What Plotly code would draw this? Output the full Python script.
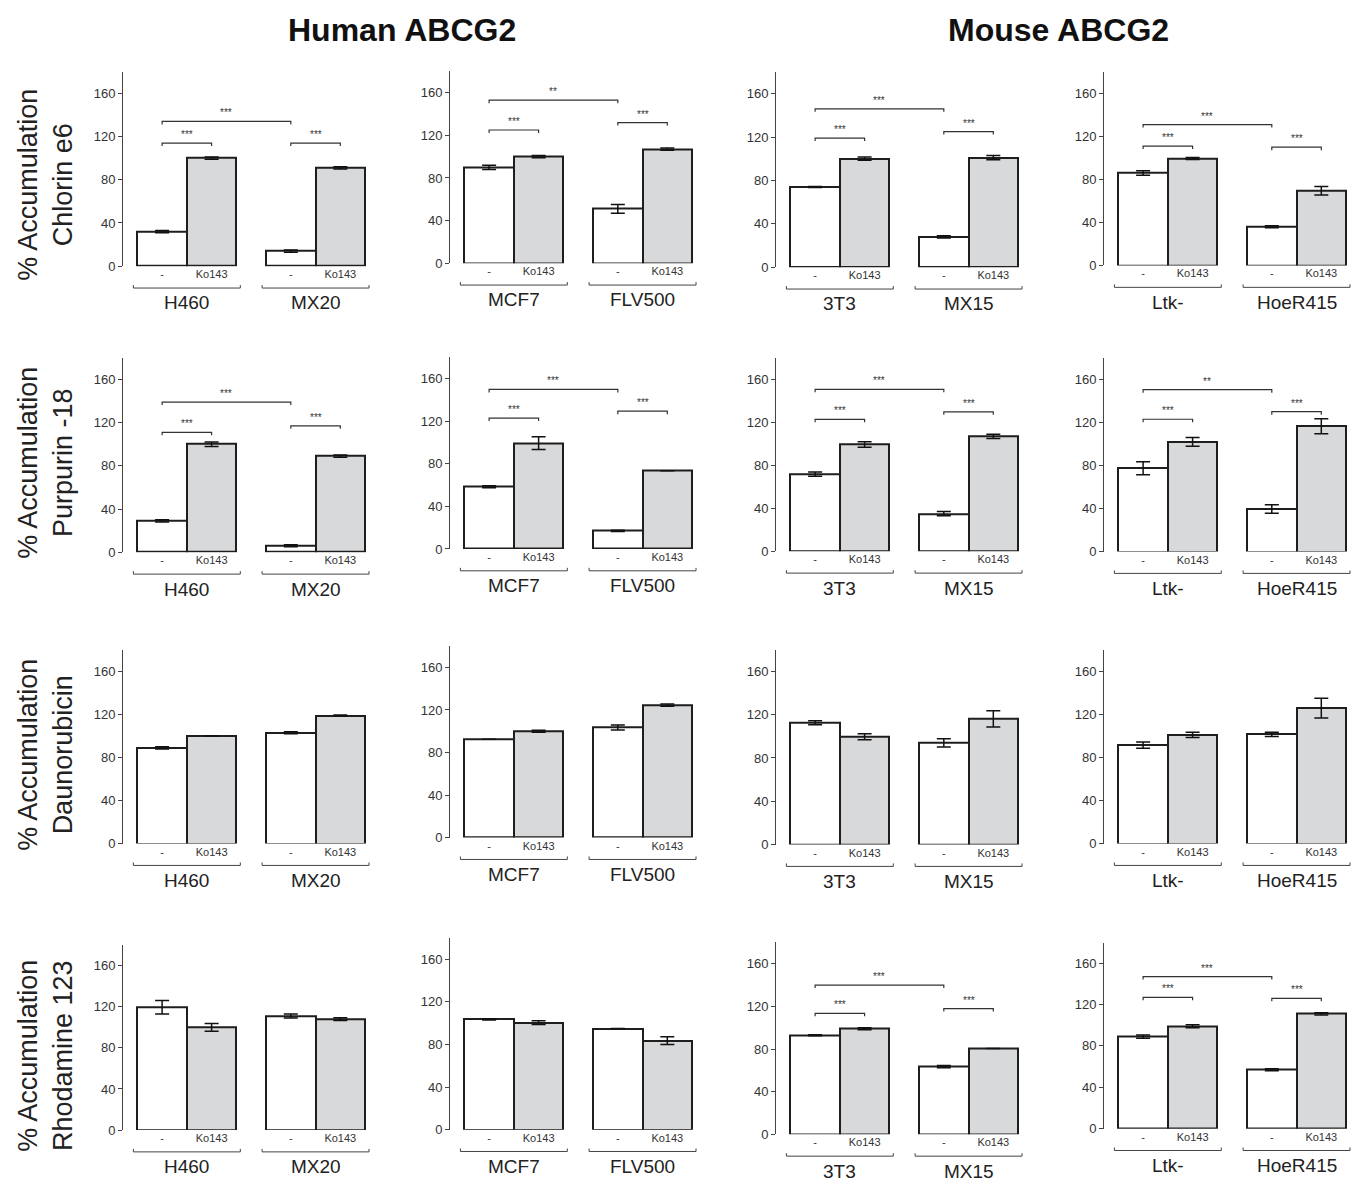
import plotly.graph_objects as go

# ---------------- data ----------------
drugs = ["Chlorin e6", "Purpurin -18", "Daunorubicin", "Rhodamine 123"]
panel_cells = [["H460", "MX20"], ["MCF7", "FLV500"], ["3T3", "MX15"], ["Ltk-", "HoeR415"]]
species_titles = ["Human ABCG2", "Mouse ABCG2"]
treatments = ["-", "Ko143"]
y_ticks = [0, 40, 80, 120, 160]

# bar order in each panel: cell1 "-", cell1 Ko143, cell2 "-", cell2 Ko143
chlorin_mean = [[32, 100, 14, 91], [90, 100, 51, 107], [74, 100, 28, 101], [86, 99.5, 36, 69.5]]
chlorin_err = [[1, 1, 1, 1], [2, 1, 4, 1], [0.5, 1.5, 1, 2], [2, 1, 1, 4]]
purpurin_mean = [[29, 100, 6, 89], [58.5, 99.5, 17, 73.5], [72, 99.5, 35, 107], [77.5, 102, 39.5, 116.5]]
purpurin_err = [[1, 2, 1, 1], [1, 6, 0.5, 0], [2, 2.5, 2, 2], [6, 4, 4, 7]]
dauno_mean = [[89, 100, 103, 119], [92.5, 100, 103.5, 124.5], [112.5, 99.5, 94, 116], [91.5, 101, 101.5, 126]]
dauno_err = [[1, 0, 1, 0.5], [0, 1, 2.3, 1], [1.8, 2.8, 3.8, 7.5], [2.9, 2.5, 2, 9.2]]
rhod_mean = [[119.5, 100, 111, 108], [103.5, 100.5, 95, 83.5], [93, 99, 63.5, 80.5], [89, 99, 57, 111]]
rhod_err = [[6.6, 3.8, 1.9, 1.3], [0.5, 1.7, 0, 3.6], [0.5, 1, 1, 0], [1.5, 1.5, 1, 1]]

# significance brackets: (bar_i, bar_j, height, label)
chlorin_sig = [
    [(0, 1, 114, "***"), (2, 3, 114, "***"), (0, 2, 134, "***")],
    [(0, 1, 125, "***"), (2, 3, 132, "***"), (0, 2, 153, "**")],
    [(0, 1, 119, "***"), (2, 3, 125, "***"), (0, 2, 146, "***")],
    [(0, 1, 111, "***"), (2, 3, 110, "***"), (0, 2, 131, "***")],
]
purpurin_sig = [
    [(0, 1, 111, "***"), (2, 3, 117, "***"), (0, 2, 139, "***")],
    [(0, 1, 123, "***"), (2, 3, 129.5, "***"), (0, 2, 150, "***")],
    [(0, 1, 123, "***"), (2, 3, 130, "***"), (0, 2, 151, "***")],
    [(0, 1, 123, "***"), (2, 3, 130, "***"), (0, 2, 150.5, "**")],
]
dauno_sig = [[], [], [], []]
rhod_sig = [
    [], [],
    [(0, 1, 113.5, "***"), (2, 3, 118, "***"), (0, 2, 140, "***")],
    [(0, 1, 127, "***"), (2, 3, 126, "***"), (0, 2, 147, "***")],
]

means = [chlorin_mean, purpurin_mean, dauno_mean, rhod_mean]
errs = [chlorin_err, purpurin_err, dauno_err, rhod_err]
sigs = [chlorin_sig, purpurin_sig, dauno_sig, rhod_sig]

# ---------------- layout constants (pixels) ----------------
W, H = 1356, 1186
bar_x = [0, 1, 2.6, 3.6]
group_x = [0.5, 3.1]
x_range = [-0.79, 4.25]
unit_px = 49.5
col_axis_px = [123, 450, 776, 1104]
zero_px = [[268, 265, 269, 267.3], [556, 552.7, 555, 555.3],
           [849.3, 843.3, 850.3, 849.3], [1137.7, 1137.3, 1142, 1136.3]]
scale_px = [[1.0875, 1.073, 1.092, 1.083], [1.0875, 1.071, 1.08, 1.083],
            [1.083, 1.071, 1.09, 1.083], [1.034, 1.0725, 1.073, 1.041]]
y_max = 180
row_label_y = [186, 466, 760, 1063]

FONT = "Liberation Sans, Arial, Helvetica, sans-serif"
WHITE, GRAY = "#ffffff", "#d8d9da"
INK = "#1e1e1e"

fig = go.Figure()
layout = dict(
    width=W, height=H, margin=dict(l=0, r=0, t=0, b=0),
    paper_bgcolor="white", plot_bgcolor="rgba(0,0,0,0)",
    showlegend=False, font=dict(family=FONT, color="#222"),
    bargap=0,
)
shapes, annotations = [], []

for r in range(4):
    for c in range(4):
        n = r * 4 + c + 1
        xa, ya = ("x" if n == 1 else f"x{n}"), ("y" if n == 1 else f"y{n}")
        z, s = zero_px[r][c], scale_px[r][c]
        h_px = y_max * s
        left = col_axis_px[c]
        right = left + (x_range[1] - x_range[0]) * unit_px
        layout[f"xaxis{n}"] = dict(
            domain=[left / W, right / W], range=x_range, anchor=ya,
            tickvals=bar_x, ticktext=treatments * 2, ticks="", showline=False,
            showgrid=False, zeroline=False, tickfont=dict(size=11, color="#333"),
            fixedrange=True,
        )
        layout[f"yaxis{n}"] = dict(
            domain=[1 - z / H, 1 - (z - h_px) / H], range=[0, y_max], anchor=xa,
            tickvals=y_ticks, ticks="outside", ticklen=4, tickcolor="#444",
            showline=True, linecolor="#444", linewidth=1, showgrid=False,
            zeroline=False, tickfont=dict(size=13, color="#333"), fixedrange=True,
        )
        fig.add_trace(go.Bar(
            x=bar_x, y=means[r][c], width=1.0, xaxis=xa, yaxis=ya,
            marker=dict(color=[WHITE, GRAY, WHITE, GRAY], line=dict(color=INK, width=2)),
            error_y=dict(type="data", array=errs[r][c], visible=True,
                         color="#111", thickness=1.5, width=7),
            showlegend=False, hoverinfo="skip",
        ))
        # significance brackets
        d = 3.0 / s
        for (i, j, yv, lab) in sigs[r][c]:
            x0, x1 = bar_x[i], bar_x[j]
            shapes.append(dict(
                type="path", xref=xa, yref=ya,
                path=f"M {x0},{yv - d} L {x0},{yv} L {x1},{yv} L {x1},{yv - d}",
                line=dict(color="#333", width=1.2),
            ))
            annotations.append(dict(
                x=(x0 + x1) / 2, y=yv, xref=xa, yref=ya, text=lab, showarrow=False,
                yanchor="bottom", yshift=1, font=dict(size=10, color="#333"),
            ))
        # group brackets and cell line labels below
        yb = -22.0 / h_px
        tk = 3.0 / h_px
        for g, gx in enumerate(group_x):
            gx0, gx1 = gx - 1.08, gx + 1.08
            shapes.append(dict(
                type="path", xref=xa, yref=f"{ya} domain",
                path=f"M {gx0},{yb + tk} L {gx0},{yb} L {gx1},{yb} L {gx1},{yb + tk}",
                line=dict(color="#444", width=1),
            ))
            annotations.append(dict(
                x=gx, y=-37.0 / h_px, xref=xa, yref=f"{ya} domain",
                text=panel_cells[c][g], showarrow=False, yanchor="middle",
                font=dict(size=19, color="#222"),
            ))
    # row label
    annotations.append(dict(
        x=46 / W, y=1 - row_label_y[r] / H, xref="paper", yref="paper",
        text=f"% Accumulation<br>{drugs[r]}", textangle=-90, showarrow=False,
        xanchor="center", yanchor="middle", font=dict(size=27, color="#222"),
    ))

# species titles
for k, (tx) in enumerate(species_titles):
    cx = [402, 1058][k]
    annotations.append(dict(
        x=cx / W, y=1 - 30 / H, xref="paper", yref="paper", text=f"<b>{tx}</b>",
        showarrow=False, xanchor="center", yanchor="middle",
        font=dict(size=32, color="#111"),
    ))

layout["shapes"] = shapes
layout["annotations"] = annotations
fig.update_layout(**layout)
fig.write_html("out.html")
